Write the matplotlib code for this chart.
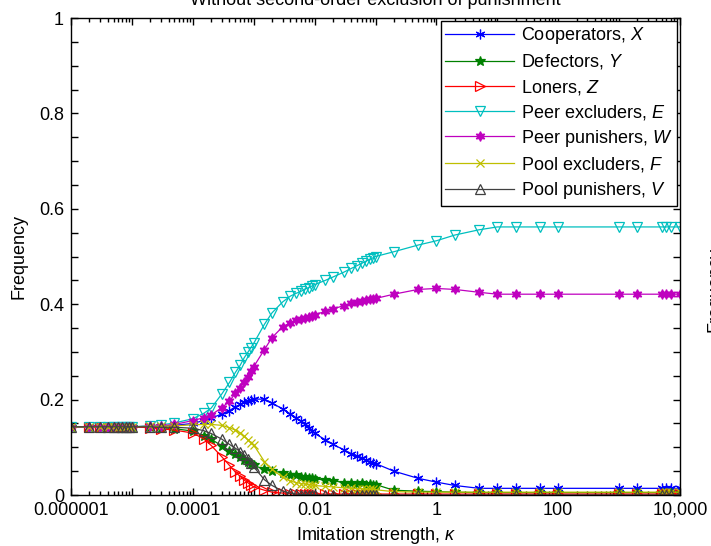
import numpy as np
import matplotlib
matplotlib.use("Agg")
import matplotlib.pyplot as plt
from matplotlib.ticker import FixedLocator, MultipleLocator, LogLocator, NullFormatter

plt.rcParams['font.family'] = ['Liberation Sans', 'DejaVu Sans']
plt.rcParams['mathtext.fontset'] = 'custom'
plt.rcParams['mathtext.rm'] = 'Liberation Sans'
plt.rcParams['mathtext.it'] = 'Liberation Sans:italic'
plt.rcParams['font.size'] = 13

# imitation strength grid
kappa = [1e-6, 2e-6, 3e-6, 4e-6, 5e-6, 6e-6, 7e-6, 8e-6, 9e-6, 1e-5, 2e-5, 3e-5, 5e-5,
         1e-4, 1.5e-4, 2e-4, 3e-4, 4e-4, 5e-4, 6e-4, 7e-4, 8e-4, 9e-4,
         1e-3, 1.5e-3, 2e-3, 3e-3, 4e-3, 5e-3, 6e-3, 7e-3, 8e-3, 9e-3,
         1e-2, 1.5e-2, 2e-2, 3e-2, 4e-2, 5e-2, 6e-2, 7e-2, 8e-2, 9e-2,
         0.1, 0.2, 0.5, 1, 2, 5, 10, 20, 50, 100, 1000, 2000, 5000, 6000, 7000, 10000]

cooperators = ([0.143]*10 + [0.144, 0.145, 0.146]
               + [0.150, 0.156, 0.161, 0.170, 0.177, 0.185, 0.190, 0.195, 0.198, 0.200]
               + [0.201, 0.201, 0.193, 0.180, 0.170, 0.162, 0.155, 0.148, 0.141, 0.135]
               + [0.129, 0.116, 0.106, 0.095, 0.087, 0.082, 0.077, 0.073, 0.070, 0.068]
               + [0.066, 0.050, 0.035, 0.027, 0.020] + [0.014]*11)
defectors = ([0.143]*10 + [0.142, 0.141, 0.139]
             + [0.134, 0.124, 0.117, 0.103, 0.093, 0.085, 0.079, 0.074, 0.069, 0.065]
             + [0.062, 0.054, 0.050, 0.047, 0.041, 0.041, 0.037, 0.038, 0.035, 0.036]
             + [0.034, 0.031, 0.030, 0.026, 0.026, 0.023, 0.025, 0.022, 0.024, 0.022]
             + [0.022, 0.010, 0.008, 0.007, 0.006] + [0.005]*11)
loners = ([0.143]*10 + [0.141, 0.139, 0.136]
          + [0.130, 0.118, 0.104, 0.080, 0.062, 0.048, 0.039, 0.031, 0.026, 0.021]
          + [0.017, 0.010, 0.006, 0.004, 0.003] + [0.002]*5
          + [0.002]*10
          + [0.002]*16)
peer_excl = ([0.143]*10 + [0.145, 0.147, 0.151]
             + [0.160, 0.171, 0.182, 0.212, 0.236, 0.257, 0.272, 0.288, 0.299, 0.309]
             + [0.318, 0.358, 0.382, 0.405, 0.417, 0.423, 0.427, 0.432, 0.435, 0.438]
             + [0.441, 0.450, 0.457, 0.467, 0.475, 0.481, 0.486, 0.490, 0.494, 0.497]
             + [0.500, 0.510, 0.524, 0.533, 0.545, 0.556] + [0.562]*10)
peer_pun = ([0.143]*10 + [0.144, 0.145, 0.148]
            + [0.156, 0.162, 0.168, 0.183, 0.197, 0.213, 0.225, 0.237, 0.248, 0.259]
            + [0.269, 0.305, 0.330, 0.353, 0.361, 0.366, 0.369, 0.372, 0.374, 0.376]
            + [0.378, 0.385, 0.390, 0.397, 0.402, 0.405, 0.407, 0.409, 0.410, 0.411]
            + [0.412, 0.421, 0.431, 0.433, 0.431, 0.425] + [0.421]*10)
pool_excl = ([0.143]*10 + [0.144, 0.144, 0.145]
             + [0.147, 0.148, 0.148, 0.146, 0.141, 0.136, 0.130, 0.123, 0.116, 0.110]
             + [0.105, 0.070, 0.054, 0.037, 0.029, 0.026, 0.024, 0.023, 0.022, 0.021]
             + [0.020, 0.018, 0.017, 0.015, 0.014, 0.013, 0.013, 0.012, 0.012, 0.012]
             + [0.011, 0.007] + [0.006]*14)
pool_pun = ([0.143]*11 + [0.142, 0.142]
            + [0.140, 0.135, 0.129, 0.117, 0.106, 0.098, 0.091, 0.083, 0.075, 0.067]
            + [0.059, 0.032, 0.020, 0.008, 0.004, 0.002, 0.001, 0.001, 0.001, 0.001]
            + [0.0]*10
            + [0.0]*16)

names = ['Cooperators, $X$', 'Defectors, $Y$', 'Loners, $Z$', 'Peer excluders, $E$',
         'Peer punishers, $W$', 'Pool excluders, $F$', 'Pool punishers, $V$']
series = [cooperators, defectors, loners, peer_excl, peer_pun, pool_excl, pool_pun]
colors = [(0, 0, 1), (0, 0.5, 0), (1, 0, 0), (0, 0.75, 0.75),
          (0.75, 0, 0.75), (0.75, 0.75, 0), (0.25, 0.25, 0.25)]
markers = [(6, 2, 0), '*', '>', 'v', (6, 1, 0), 'x', '^']
filled = [True, True, False, False, True, True, False]
msizes = [7, 7, 6.5, 6.5, 7, 5.5, 6.5]

fig = plt.figure(figsize=(7.11, 5.46), dpi=100)
ax = fig.add_axes([0.0999, 0.0934, 0.8565, 0.8736])

for y, lab, c, m, f, ms in zip(series, names, colors, markers, filled, msizes):
    ax.plot(kappa, y, color=c, lw=0.9, marker=m, ms=ms, mew=0.9,
            mfc=c if f else 'none', mec=c, label=lab)

ax.set_xscale('log')
ax.set_xlim(1e-6, 1e4)
ax.set_ylim(0, 1)

ax.xaxis.set_major_locator(FixedLocator([10.0**k for k in range(-6, 5)]))
ax.xaxis.set_minor_locator(LogLocator(base=10, subs=np.arange(2, 10), numticks=30))
ax.xaxis.set_minor_formatter(NullFormatter())
xlabels = {-6: '0.000001', -4: '0.0001', -2: '0.01', 0: '1', 2: '100', 4: '10,000'}
ax.set_xticklabels([xlabels.get(k, '') for k in range(-6, 5)])

ax.set_yticks([0, 0.2, 0.4, 0.6, 0.8, 1])
ax.set_yticklabels(['0', '0.2', '0.4', '0.6', '0.8', '1'])
ax.yaxis.set_minor_locator(MultipleLocator(0.05))

ax.tick_params(which='both', direction='in', top=True, right=True, width=1)
ax.tick_params(which='major', length=5, pad=5)
ax.tick_params(which='minor', length=3)
ax.tick_params(axis='y', which='minor', length=5)
for s in ax.spines.values():
    s.set_linewidth(1)

ax.set_xlabel(r'Imitation strength, $\kappa$', labelpad=4)
ax.set_ylabel('Frequency', labelpad=8)

leg = ax.legend(loc='upper right', bbox_to_anchor=(1.0, 1.0), numpoints=1,
                handlelength=3.8, handletextpad=0.4, labelspacing=0.34,
                borderaxespad=0.15, fancybox=False, framealpha=1, borderpad=0.25)
leg.get_frame().set_edgecolor('black')
leg.get_frame().set_linewidth(1)

fig.text(0.528, 0.99, 'Without second-order exclusion of punishment',
         ha='center', va='baseline')
fig.text(0.993, 0.47, 'Frequency', rotation=90, ha='left', va='center')

fig.savefig('out.png', dpi=100)
